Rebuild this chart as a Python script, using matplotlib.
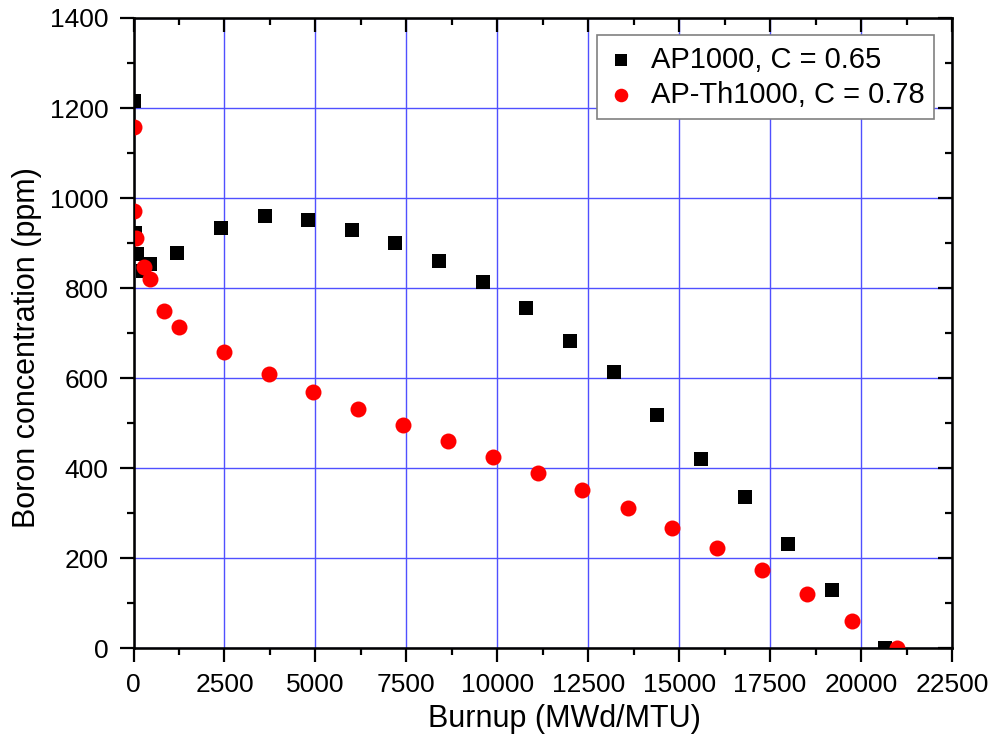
import matplotlib
matplotlib.use("Agg")
from matplotlib import pyplot as plt
from matplotlib.ticker import MultipleLocator

plt.rcParams['font.family'] = ['Liberation Sans', 'DejaVu Sans']

# AP1000, C = 0.65
ap_burnup = [0, 50, 100, 250, 450, 1200, 2400, 3600, 4800, 6000, 7200, 8400,
             9600, 10800, 12000, 13200, 14400, 15600, 16800, 18000, 19200, 20650]
ap_boron = [1215, 922, 877, 838, 853, 878, 934, 960, 951, 930, 901, 861,
            813, 757, 683, 614, 518, 421, 336, 231, 129, 0]

# AP-Th1000, C = 0.78
th_burnup = [0, 20, 60, 300, 450, 840, 1250, 2480, 3720, 4940, 6170, 7400,
             8640, 9870, 11110, 12340, 13580, 14810, 16050, 17280, 18520, 19750, 20990]
th_boron = [1157, 972, 912, 846, 820, 749, 713, 658, 609, 570, 531, 496,
            460, 425, 390, 353, 312, 268, 223, 175, 120, 62, 0]

fig = plt.figure(figsize=(9.9, 7.49), dpi=100)
ax = fig.add_axes([0.1349, 0.1342, 0.8267, 0.8418])

ax.scatter(ap_burnup, ap_boron, marker='s', color='black', s=10.0**2,
           linewidths=0, label='AP1000, C = 0.65', zorder=3)
ax.scatter(th_burnup, th_boron, marker='o', color='#ff0000', s=11.5**2,
           linewidths=0, label='AP-Th1000, C = 0.78', zorder=4)

ax.set_xlim(0, 22500)
ax.set_ylim(0, 1400)
ax.xaxis.set_major_locator(MultipleLocator(2500))
ax.xaxis.set_minor_locator(MultipleLocator(1250))
ax.yaxis.set_major_locator(MultipleLocator(200))
ax.yaxis.set_minor_locator(MultipleLocator(100))

ax.grid(True, which='major', color='#5050ff', linewidth=1.0)
ax.set_axisbelow(True)

for s in ax.spines.values():
    s.set_linewidth(1.8)

ax.tick_params(which='both', direction='out', width=1.6, labelsize=19, pad=8)
ax.tick_params(which='major', length=10)
ax.tick_params(which='minor', length=5)

ax.set_xlabel('Burnup (MWd/MTU)', fontsize=22)
ax.set_ylabel('Boron concentration (ppm)', fontsize=22)
ax.xaxis.set_label_coords(0.527, -0.088)
ax.yaxis.set_label_coords(-0.112, 0.4766)

# top and right ticks point inward
ax2 = ax.twinx()
ax2.set_ylim(ax.get_ylim())
ax2.yaxis.set_major_locator(MultipleLocator(200))
ax2.yaxis.set_minor_locator(MultipleLocator(100))
ax2.tick_params(which='both', direction='in', width=1.6, labelright=False)
ax2.tick_params(which='major', length=10)
ax2.tick_params(which='minor', length=5)
ax3 = ax.twiny()
ax3.set_xlim(ax.get_xlim())
ax3.xaxis.set_major_locator(MultipleLocator(2500))
ax3.xaxis.set_minor_locator(MultipleLocator(1250))
ax3.tick_params(which='both', direction='in', width=1.6, labeltop=False)
ax3.tick_params(which='major', length=10)
ax3.tick_params(which='minor', length=5)

leg = ax3.legend(*ax.get_legend_handles_labels(), loc='upper right', fontsize=21,
                 frameon=True, fancybox=False, edgecolor='#808080',
                 handletextpad=0.5, borderaxespad=0.6, borderpad=0.35,
                 labelspacing=0.25, handlelength=1.0, markerscale=0.85,
                 framealpha=1)
leg.get_frame().set_linewidth(1.2)

fig.savefig('out.png', dpi=100)
